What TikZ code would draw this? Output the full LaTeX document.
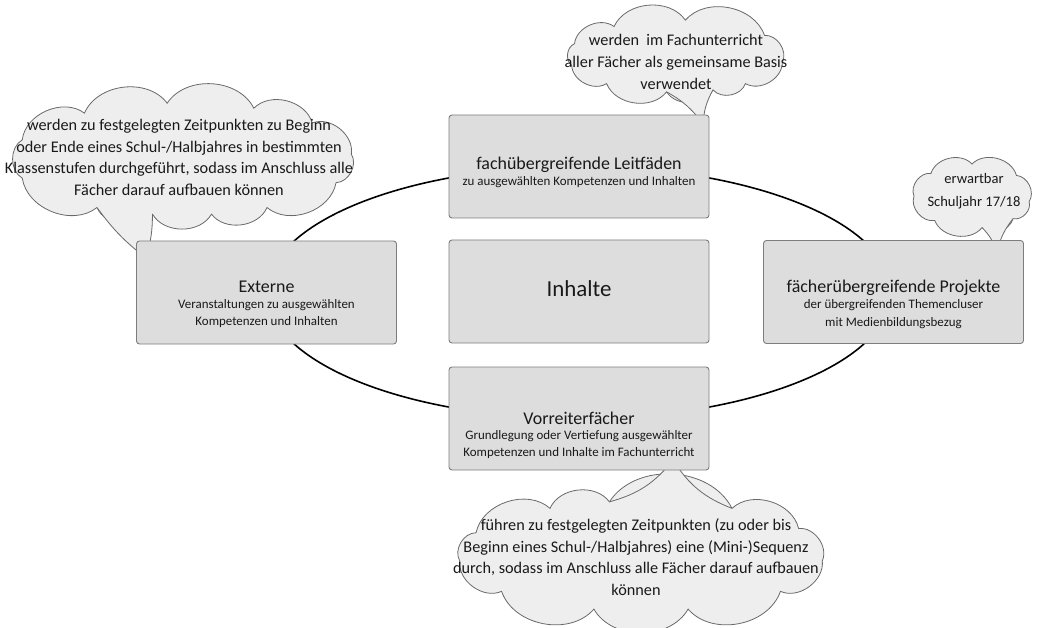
\documentclass[tikz,border=0pt]{standalone}
\usepackage{fontspec}
\setmainfont{Carlito}
\definecolor{boxfill}{RGB}{221,221,221}
\definecolor{boxline}{RGB}{125,125,125}
\definecolor{cloudfill}{RGB}{238,238,238}
\definecolor{cloudline}{RGB}{105,105,105}
\definecolor{txt}{RGB}{25,25,25}
% #1 name, #2 cx, #3 cy, #4 rx, #5 ry, #6 first angle, #7 remaining angles (last = first+360)
\newcommand\mycloud[7]{%
  \coordinate (#1-0) at ({#2+#4*cos(#6)},{#3+#5*sin(#6)});
  \foreach \a [count=\k] in {#7}{%
    \coordinate (#1-\k) at ({#2+#4*cos(\a)},{#3+#5*sin(\a)});
    \xdef\mycloudn{\k}}%
  \path[cloudshape] (#1-0) \foreach \k in {1,...,\mycloudn}{ to[cloudarc] (#1-\k)} -- cycle;
}
% #1 cloud name, #2 a, #3 b, #4 tip, #5 inner point, #6 bend
\newcommand\mytail[6]{%
  \fill[cloudfill] (#1-#2) to[bend left=#6] (#4) to[bend left=#6] (#1-#3) -- (#5) -- cycle;
  \draw[cloudline, line width=0.8bp] (#1-#2) to[bend left=#6] (#4) to[bend left=#6] (#1-#3);
}
\begin{document}
\begin{tikzpicture}[x=1bp,y=-1bp,
  box/.style={draw=boxline, fill=boxfill, rounded corners=3bp, line width=0.9bp,
    minimum width=260bp, minimum height=103bp, inner sep=0pt},
  cloudshape/.style={draw=cloudline, fill=cloudfill, line width=0.8bp},
  cloudarc/.style={bend left=60},
  title/.style={anchor=base, font=\fontsize{18}{20}\selectfont, text=txt, inner sep=0pt},
  sub/.style={anchor=base, font=\fontsize{13}{15}\selectfont, text=txt, inner sep=0pt},
  cloudtext/.style={align=center, font=\fontsize{16.3}{21.7}\selectfont, text=txt, inner sep=0pt},
]
\useasboundingbox (0,0) rectangle (1039,628);
% ellipse
\coordinate (ec) at (579,292.5);
\draw[line width=1.6bp, black] (ec) ellipse [x radius=312, y radius=126];

% clouds
\mycloud{c1}{182}{159}{170}{56}{-40}{-5,25,60,80,100,120,160,200,235,265,295,320}
\coordinate (c1tip) at (146,258);
\coordinate (c1c) at (130,190);
\mytail{c1}{6}{5}{c1tip}{c1c}{-8}

\mycloud{c2}{676}{56}{108}{36}{-35}{10,50,70,95,130,165,200,235,275,325}
\coordinate (c2tip) at (703,124);
\coordinate (c2c) at (690,70);
\mytail{c2}{4}{3}{c2tip}{c2c}{12}

\mycloud{c3}{972}{196}{58}{32}{-40}{10,45,80,130,180,225,270,320}
\coordinate (c3tip) at (997,252);
\coordinate (c3c) at (995,205);
\mytail{c3}{3}{2}{c3tip}{c3c}{12}

\mycloud{c4}{641}{556}{182}{55}{-30}{5,40,75,105,140,175,205,240,260,300,330}
\coordinate (c4tip) at (673,460);
\coordinate (c4c) at (670,530);
\mytail{c4}{9}{10}{c4tip}{c4c}{-18}

% boxes
\node[box] (top) at (579,166.5) {};
\node[box] (left) at (266.5,292.5) {};
\node[box] (center) at (579,291.5) {};
\node[box] (right) at (893.5,292) {};
\node[box] (bottom) at (579,418.5) {};

% box texts
\node[title] (topT) at (579,170) {fachübergreifende Leitfäden};
\node[sub] (topS) at (579,186) {zu ausgewählten Kompetenzen und Inhalten};

\node[title] (leftT) at (266.5,293) {Externe};
\node[sub] (leftS1) at (266.5,308.5) {Veranstaltungen zu ausgewählten};
\node[sub] (leftS2) at (266.5,325.5) {Kompetenzen und Inhalten};

\node[anchor=base, font=\fontsize{23}{26}\selectfont, text=txt, inner sep=0pt] (centerT) at (579,296.5) {Inhalte};

\node[title] (rightT) at (893.5,293) {fächerübergreifende Projekte};
\node[sub] (rightS1) at (893.5,309) {der übergreifenden Themencluser};
\node[sub] (rightS2) at (893.5,326.5) {mit Medienbildungsbezug};

\node[title] (bottomT) at (579,424) {Vorreiterfächer};
\node[sub] (bottomS1) at (579,439.5) {Grundlegung oder Vertiefung ausgewählter};
\node[sub] (bottomS2) at (579,456.5) {Kompetenzen und Inhalte im Fachunterricht};

% cloud texts
\node[cloudtext] (c1t) at (179,157.5) {werden zu festgelegten Zeitpunkten zu Beginn\\oder Ende eines Schul-/Halbjahres in bestimmten\\Klassenstufen durchgeführt, sodass im Anschluss alle\\Fächer darauf aufbauen können};
\node[cloudtext] (c2t) at (676,62) {werden\ \ im Fachunterricht\\aller Fächer als gemeinsame Basis\\verwendet};
\node[cloudtext, font=\fontsize{14.6}{23}\selectfont] (c3t) at (974,191.5) {erwartbar\\Schuljahr 17/18};
\node[cloudtext] (c4t) at (636,557) {führen zu festgelegten Zeitpunkten (zu oder bis\\Beginn eines Schul-/Halbjahres) eine (Mini-)Sequenz\\durch, sodass im Anschluss alle Fächer darauf aufbauen\\können};
\end{tikzpicture}
\end{document}
